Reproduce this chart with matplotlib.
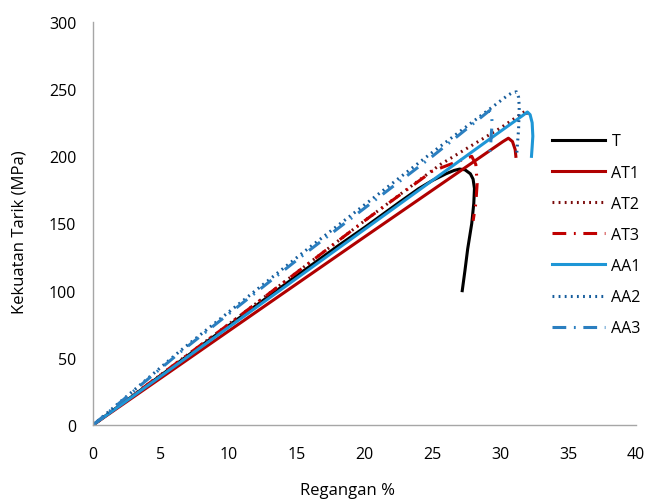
import matplotlib
matplotlib.use("Agg")
import matplotlib.pyplot as plt

plt.rcParams['font.family'] = ['Open Sans', 'DejaVu Sans']

# Data (strain %, strength MPa)
T_x = [0, 5, 10, 15, 18, 20, 22.6, 24, 25, 26, 26.6, 27.0, 27.4, 27.8, 28.0, 28.1, 28.05, 27.9, 27.6, 27.4, 27.2]
T_y = [0, 37, 74, 111, 133, 147, 166, 176, 182, 187, 189.5, 190.5, 190, 187, 183, 176, 165, 150, 131, 115, 100]

AT1_x = [0, 10, 20, 30.2, 30.6, 30.9, 31.1, 31.15]
AT1_y = [0, 70, 140, 211, 213.5, 211, 205, 200]

AT2_x = [0, 10, 20, 25.6, 30, 31.9, 32.1]
AT2_y = [0, 75, 152, 194, 221, 234, 230]

AT3_x = [0, 10, 20, 25, 27.6, 27.9, 28.2, 28.3, 28.2, 28.0]
AT3_y = [0, 75, 152, 189, 199, 200, 194, 180, 165, 152]

AA1_x = [0, 10, 20, 30, 31.6, 32.0, 32.2, 32.35, 32.4, 32.35, 32.3]
AA1_y = [0, 72.8, 145.6, 218.5, 230, 233, 231, 225, 215, 207, 200]

AA2_x = [0, 6.4, 15.8, 25, 30.5, 30.9, 31.2, 31.35, 31.4, 31.35, 31.2]
AA2_y = [0, 55, 131, 203, 245, 247.5, 248, 244, 237, 220, 200]

AA3_x = [0, 6.4, 15.8, 25, 29.2, 29.35, 29.4, 29.3, 29.2]
AA3_y = [0, 54, 129, 200, 234, 232, 225, 210, 200]

x_ticks = [0, 5, 10, 15, 20, 25, 30, 35, 40]
y_ticks = [0, 50, 100, 150, 200, 250, 300]

fig = plt.figure(figsize=(6.49, 5.02), dpi=100)
ax = fig.add_axes([93/649, 1-426/502, (636-93)/649, (426-23)/502])

lw = 2.2
ax.plot(T_x, T_y, color='black', lw=lw, label='T')
ax.plot(AT1_x, AT1_y, color='#B00000', lw=lw, label='AT1')
ax.plot(AT2_x, AT2_y, color='#7A0A0A', lw=lw, linestyle=(0, (0.6, 1.4)), label='AT2')
ax.plot(AT3_x, AT3_y, color='#C00000', lw=lw, linestyle=(0, (4.5, 2.5, 0.6, 2.5)), label='AT3')
ax.plot(AA1_x, AA1_y, color='#1E96D6', lw=lw, label='AA1')
ax.plot(AA2_x, AA2_y, color='#155C9C', lw=lw, linestyle=(0, (0.6, 1.4)), label='AA2')
ax.plot(AA3_x, AA3_y, color='#2B7FC0', lw=lw, linestyle=(0, (4.5, 2.5, 0.6, 2.5)), label='AA3')

ax.set_xlim(0, 40)
ax.set_ylim(0, 300)
ax.set_xticks(x_ticks)
ax.set_yticks(y_ticks)
ax.tick_params(length=0, labelsize=11.5, colors='black')
ax.tick_params(axis='x', pad=15)
ax.tick_params(axis='y', pad=12)
for s in ['top', 'right']:
    ax.spines[s].set_visible(False)
for s in ['left', 'bottom']:
    ax.spines[s].set_color('#A6A6A6')
    ax.spines[s].set_linewidth(1.0)

leg = fig.legend(loc='upper left', bbox_to_anchor=(546/649, 1-128/502), frameon=False,
                 fontsize=11.5, handlelength=3.3, labelspacing=0.95, handletextpad=0.4,
                 borderaxespad=0)

fig.text(347/649, 1-491/502, 'Regangan %', ha='center', va='center', fontsize=12)
fig.text(20/649, 1-232/502, 'Kekuatan Tarik (MPa)', ha='center', va='center', rotation=90, fontsize=12)

fig.savefig('out.png', dpi=100)
